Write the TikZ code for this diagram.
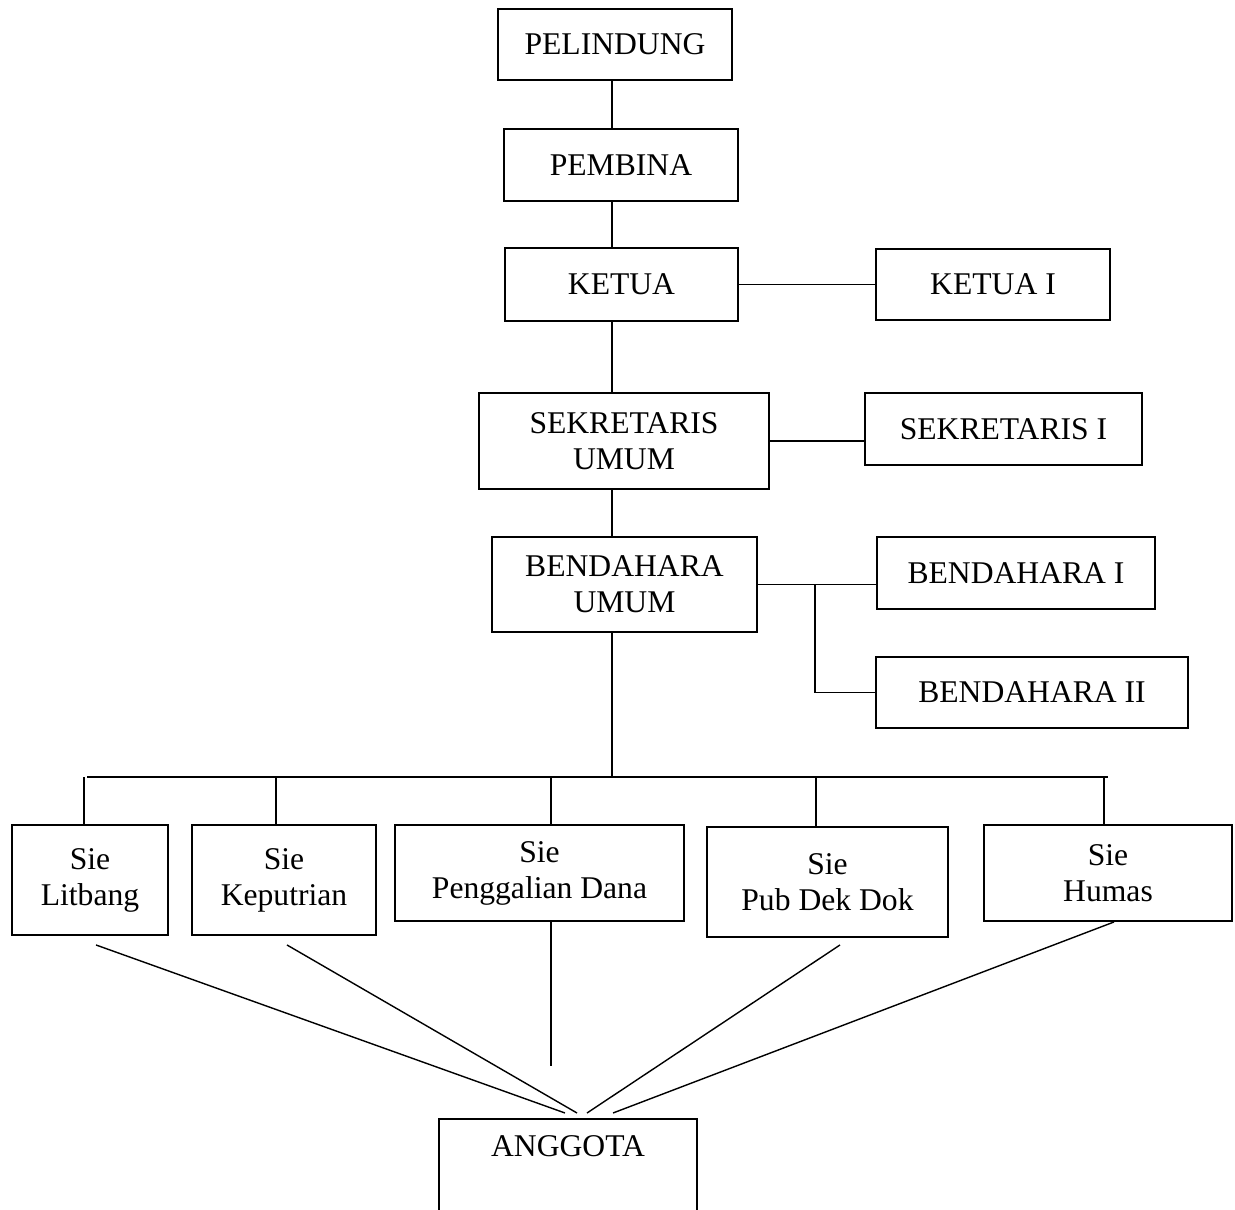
\documentclass[tikz,border=0pt]{standalone}
\usepackage{fontspec}
\setmainfont{Liberation Serif}
\tikzset{
  kotak/.style 2 args={draw,line width=1.1pt,minimum width=#1*0.02cm,minimum height=#2*0.02cm,
    inner sep=0pt,align=center,font=\fontsize{18}{20.5}\selectfont},
  garis/.style={line width=0.9pt},
}
\begin{document}
\begin{tikzpicture}[x=0.02cm,y=-0.02cm]
\useasboundingbox (0,0) rectangle (1235,1210);
\node[kotak={234}{71}] (pelindung) at (615,44.5) {PELINDUNG};
\node[kotak={234}{72}] (pembina) at (621,165) {PEMBINA};
\node[kotak={233}{73}] (ketua) at (621.5,284.5) {KETUA};
\node[kotak={234}{71}] (ketua1) at (993,284.5) {KETUA I};
\node[kotak={290}{96}] (sekum) at (624,441) {SEKRETARIS\\UMUM};
\node[kotak={277}{72}] (sek1) at (1003.5,429) {SEKRETARIS I};
\node[kotak={265}{95}] (benum) at (624.5,584.5) {BENDAHARA\\UMUM};
\node[kotak={278}{72}] (ben1) at (1016,573) {BENDAHARA I};
\node[kotak={312}{71}] (ben2) at (1032,692.5) {BENDAHARA II};
\node[kotak={156}{110}] (litbang) at (90,880) {Sie\\Litbang};
\node[kotak={184}{110}] (keputrian) at (284,880) {Sie\\Keputrian};
\node[kotak={289}{96}] (penggalian) at (539.5,873) {Sie\\Penggalian Dana};
\node[kotak={241}{110}] (pubdek) at (827.5,882) {Sie\\Pub Dek Dok};
\node[kotak={248}{96}] (humas) at (1108,873) {Sie\\Humas};
\node[anchor=north,minimum width=258*0.02cm,inner sep=0pt,text height=21.3pt,text depth=31.5pt,
  font=\fontsize{18}{20.5}\selectfont] (anggota) at (568,1119) {ANGGOTA};
\draw[line width=1.1pt] (anggota.south west) -- (anggota.north west) -- (anggota.north east) -- (anggota.south east);
\coordinate (poros) at (612,777);
\coordinate (busL) at (87,777);
\coordinate (busR) at (1108,777);
\coordinate (cabang) at (815,585);
\coordinate (ujung) at (551,1066);
\draw[garis] (poros |- pelindung.south) -- (poros |- pembina.north);
\draw[garis] (poros |- pembina.south) -- (poros |- ketua.north);
\draw[garis] (poros |- ketua.south) -- (poros |- sekum.north);
\draw[garis] (poros |- sekum.south) -- (poros |- benum.north);
\draw[garis] (poros |- benum.south) -- (poros);
\draw[garis] (ketua.east) -- (ketua.east -| ketua1.west);
\draw[garis] (sekum.east) -- (sekum.east -| sek1.west);
\draw[garis] (benum.east) -- (benum.east -| ben1.west);
\draw[garis] (cabang) |- (ben2.west);
\draw[garis] (busL) -- (busR);
\foreach \n/\x in {litbang/84,keputrian/276,penggalian/551,pubdek/816,humas/1104}{
  \coordinate (t\n) at (\x,777);
  \draw[garis] (t\n) -- (t\n |- \n.north);
}
\draw[line width=0.8pt] ([shift={(6,9)}]litbang.south) -- ([shift={(-3,-6)}]anggota.north);
\draw[line width=0.8pt] ([shift={(3,9)}]keputrian.south) -- ([shift={(9,-6)}]anggota.north);
\draw[line width=0.8pt] (ujung |- penggalian.south) -- (ujung);
\draw[line width=0.8pt] ([shift={(12.5,7)}]pubdek.south) -- ([shift={(19,-6)}]anggota.north);
\draw[line width=0.8pt] ([shift={(6,0)}]humas.south) -- ([shift={(45,-6)}]anggota.north);
\end{tikzpicture}
\end{document}
